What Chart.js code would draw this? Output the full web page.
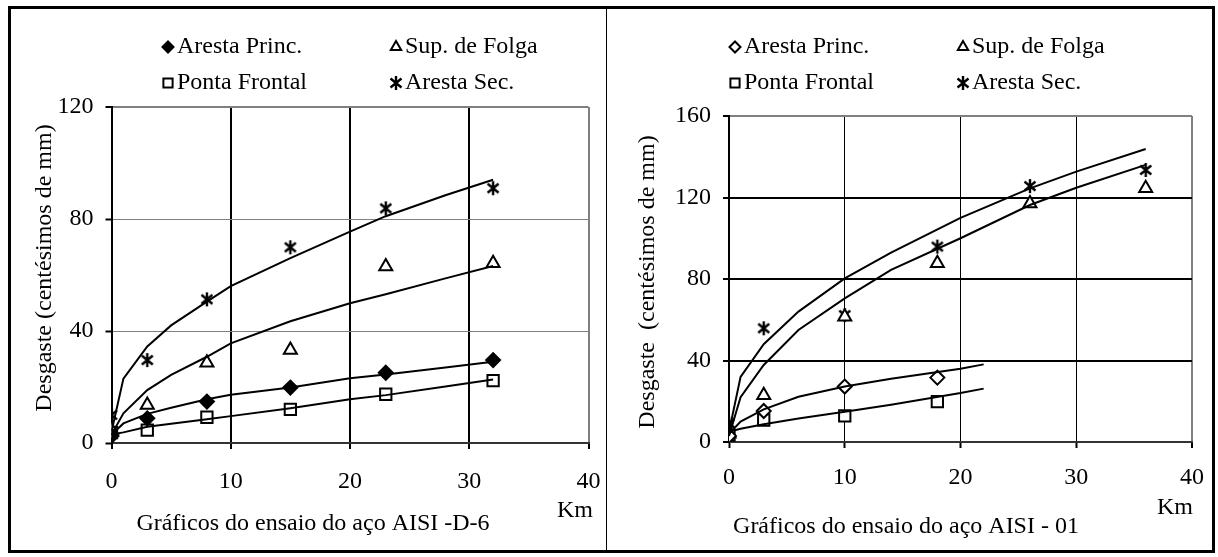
<!DOCTYPE html>
<html>
<head>
<meta charset="utf-8">
<script src="https://cdn.jsdelivr.net/npm/chart.js@4/dist/chart.umd.min.js"></script>
<style>
  body { margin: 0; background: #fff; }
  #wrap { position: relative; width: 1218px; height: 557px; overflow: hidden; }
  canvas { position: absolute; top: 0; }
  #c1 { left: 0; }
  #c2 { left: 606px; }
  .frame { position: absolute; left: 8px; top: 6px; width: 1201px; height: 541px; border: 3px solid #000; pointer-events: none; }
  .divider { position: absolute; left: 606px; top: 6px; width: 1px; height: 547px; background: #000; pointer-events: none; }
</style>
</head>
<body>
<div id="wrap">
  <canvas id="c1" width="606" height="557"></canvas>
  <canvas id="c2" width="612" height="557"></canvas>
  <div class="frame"></div>
  <div class="divider"></div>
</div>
<script>
// AISI D-6 (left) - measured points
const kmD6 = [0, 3, 8, 15, 23, 32];
const d6Princ = [2.5, 8.8, 14.8, 19.8, 25.1, 29.6];
const d6Folga = [4.6, 13.6, 28.7, 33.2, 63, 64.2];
const d6Frontal = [3.7, 4.6, 9.2, 12, 17.4, 22.3];
const d6Sec = [10, 29.6, 51.3, 69.9, 83.8, 91];
// AISI D-6 fitted curves
const fitKmD6 = [0, 1, 3, 5, 8, 10, 15, 20, 23, 28, 32];
const fitD6Sec = [4, 23, 34.5, 42, 50.5, 56, 66, 75.5, 81, 88.5, 94];
const fitD6Folga = [3, 10.6, 18.9, 24.3, 30.8, 35.6, 43.5, 49.9, 53.1, 58.8, 63.2];
const fitD6Princ = [3, 7, 10.4, 12.6, 15.6, 17.2, 19.8, 23.1, 24.5, 27, 29];
const fitD6Frontal = [3, 3.8, 5.8, 6.9, 8.5, 9.6, 12.4, 15.6, 17.1, 20.2, 22.7];

// AISI 01 (right) - measured points
const km01 = [0, 3, 10, 18, 26, 36];
const o1Princ = [3, 15.2, 27.2, 31.6];
const o1Frontal = [3.4, 10.8, 12.8, 19.8];
const o1Folga = [4, 23, 61.5, 87.7, 117.1, 124.5];
const o1Sec = [9.2, 55.8, 62.3, 95.9, 125.6, 133.5];
// AISI 01 fitted curves
const fitKm01Long = [0, 1, 3, 6, 10, 14, 20, 26, 30, 36];
const fit01Sec = [5, 32, 48, 64, 80.3, 93, 110, 124.5, 132.7, 143.8];
const fit01Folga = [3, 22, 37.8, 55, 70.5, 84.5, 100, 116.3, 124.8, 136];
const fitKm01Short = [0, 1, 3, 6, 10, 14, 20, 22];
const fit01Princ = [4, 10, 16, 22.2, 27.2, 31, 36, 38.1];
const fit01Frontal = [5, 6.5, 8.7, 11.5, 14.9, 18.3, 24, 26.2];

const legendNames = ["Aresta Princ.", "Sup. de Folga", "Ponta Frontal", "Aresta Sec."];
const xTicks = [0, 10, 20, 30, 40];

const FONT = "'Liberation Serif', 'Times New Roman', serif";

function pts(xs, ys) {
  return ys.map((y, i) => ({x: xs[i], y: y}));
}

// asterisk marker (x with vertical bar)
function asterisk() {
  const c = document.createElement('canvas');
  c.width = 16; c.height = 16;
  const g = c.getContext('2d');
  g.strokeStyle = '#000';
  g.lineWidth = 2.4;
  g.beginPath();
  g.moveTo(2.5, 3.5); g.lineTo(13.5, 12.5);
  g.moveTo(13.5, 3.5); g.lineTo(2.5, 12.5);
  g.moveTo(8, 1); g.lineTo(8, 15);
  g.stroke();
  return c;
}
const starImg = asterisk();

function markerSet(princFill) {
  return [
    {pointStyle: 'rectRot', radius: 7, bg: princFill},
    {pointStyle: 'triangle', radius: 7.5, bg: '#fff'},
    {pointStyle: 'rect', radius: 8, bg: '#fff'},
    {pointStyle: starImg, radius: 8, bg: '#fff'}
  ];
}

function scatterSet(data, m) {
  return {
    type: 'scatter', data: data, showLine: false,
    pointStyle: m.pointStyle, pointRadius: m.radius, pointHoverRadius: m.radius,
    pointBackgroundColor: m.bg, pointBorderColor: '#000', pointBorderWidth: 2
  };
}

function curveSet(data) {
  return {
    type: 'line', data: data, showLine: true, borderColor: '#000', borderWidth: 2,
    pointRadius: 0, tension: 0, fill: false
  };
}

// legend, axis titles and captions drawn at fixed spots
function textPlugin(cfg) {
  return {
    id: 'texts',
    afterDraw(chart) {
      const ctx = chart.ctx;
      ctx.save();
      ctx.fillStyle = '#000';
      ctx.font = '24px ' + FONT;
      ctx.textBaseline = 'middle';
      ctx.textAlign = 'left';
      cfg.markers.forEach((m, i) => {
        const col = i % 2, row = Math.floor(i / 2);
        const mx = cfg.legX[col], my = cfg.legY[row];
        ctx.fillStyle = m.bg;
        ctx.strokeStyle = '#000';
        ctx.lineWidth = 2;
        Chart.helpers.drawPoint(ctx, {pointStyle: m.pointStyle, radius: m.radius - 1.5, rotation: 0, borderWidth: 2}, mx, my);
        ctx.fillStyle = '#000';
        ctx.fillText(legendNames[i], mx + 9, my);
      });
      ctx.textAlign = 'center';
      ctx.fillText(cfg.caption, cfg.capX, cfg.capY);
      ctx.fillText('Km', cfg.kmX, cfg.kmY);
      ctx.translate(cfg.ytX, cfg.ytY);
      ctx.rotate(-Math.PI / 2);
      ctx.fillText(cfg.yTitle, 0, 0);
      ctx.restore();
    }
  };
}

function makeChart(id, o) {
  const m = o.markers;
  new Chart(document.getElementById(id), {
    type: 'scatter',
    data: {
      datasets: [
        curveSet(o.curves[0]), curveSet(o.curves[1]), curveSet(o.curves[2]), curveSet(o.curves[3]),
        scatterSet(o.series[0], m[0]), scatterSet(o.series[1], m[1]),
        scatterSet(o.series[2], m[2]), scatterSet(o.series[3], m[3])
      ]
    },
    options: {
      responsive: false,
      animation: false,
      events: [],
      layout: {padding: o.padding},
      plugins: {legend: {display: false}, tooltip: {enabled: false}},
      scales: {
        x: {
          type: 'linear', min: 0, max: 40,
          afterBuildTicks: s => { s.ticks = xTicks.map(v => ({value: v})); },
          afterFit: s => { s.height = 50; },
          ticks: {color: '#000', font: {family: FONT, size: 24, lineHeight: o.xTickLH}, padding: 4, maxRotation: 0},
          grid: {
            color: o.xGridColor, lineWidth: o.xGridWidth,
            tickColor: '#000', tickLength: 6, tickWidth: 2
          },
          border: {color: '#333', width: 2}
        },
        y: {
          type: 'linear', min: 0, max: o.yMax,
          afterBuildTicks: s => { s.ticks = o.yTicks.map(v => ({value: v})); },
          afterFit: s => { s.width = 60; },
          ticks: {color: '#000', font: {family: FONT, size: 24}, padding: 12},
          grid: {
            color: o.yGridColor, lineWidth: o.yGridWidth,
            tickColor: '#000', tickLength: 6, tickWidth: 2
          },
          border: {color: '#000', width: 2}
        }
      }
    },
    plugins: [textPlugin(o.text)]
  });
}

const mD6 = markerSet('#000');
makeChart('c1', {
  yMax: 120, yTicks: [0, 40, 80, 120],
  padding: {left: 51.5, right: 17.5, top: 107, bottom: 64},
  xTickLH: 2.4,
  markers: mD6,
  series: [pts(kmD6, d6Princ), pts(kmD6, d6Folga), pts(kmD6, d6Frontal), pts(kmD6, d6Sec)],
  curves: [pts(fitKmD6, fitD6Princ), pts(fitKmD6, fitD6Folga), pts(fitKmD6, fitD6Frontal), pts(fitKmD6, fitD6Sec)],
  xGridColor: c => c.tick && c.tick.value === 40 ? '#808080' : '#000',
  xGridWidth: 2,
  yGridColor: '#808080',
  yGridWidth: c => c.tick && c.tick.value === 120 ? 2 : 1,
  text: {
    markers: mD6, legX: [168, 396], legY: [47, 83],
    caption: 'Gráficos do ensaio do aço AISI -D-6', capX: 313, capY: 524,
    kmX: 575, kmY: 511,
    yTitle: 'Desgaste (centésimos de mm)', ytX: 45, ytY: 268
  }
});

const m01 = markerSet('#fff');
makeChart('c2', {
  yMax: 160, yTicks: [0, 40, 80, 120, 160],
  padding: {left: 63, right: 26, top: 116, bottom: 65},
  xTickLH: 2.15,
  markers: m01,
  series: [pts(km01, o1Princ), pts(km01, o1Folga), pts(km01, o1Frontal), pts(km01, o1Sec)],
  curves: [pts(fitKm01Short, fit01Princ), pts(fitKm01Long, fit01Folga), pts(fitKm01Short, fit01Frontal), pts(fitKm01Long, fit01Sec)],
  xGridColor: c => c.tick && c.tick.value === 40 ? '#808080' : '#000',
  xGridWidth: c => c.tick && c.tick.value === 40 ? 2 : 1,
  yGridColor: c => c.tick && c.tick.value === 160 ? '#808080' : '#000',
  yGridWidth: 2,
  text: {
    markers: m01, legX: [129, 357], legY: [47, 83],
    caption: 'Gráficos do ensaio do aço AISI - 01', capX: 300, capY: 527,
    kmX: 569, kmY: 508,
    yTitle: 'Desgaste  (centésimos de mm)', ytX: 42, ytY: 282
  }
});
</script>
</body>
</html>
